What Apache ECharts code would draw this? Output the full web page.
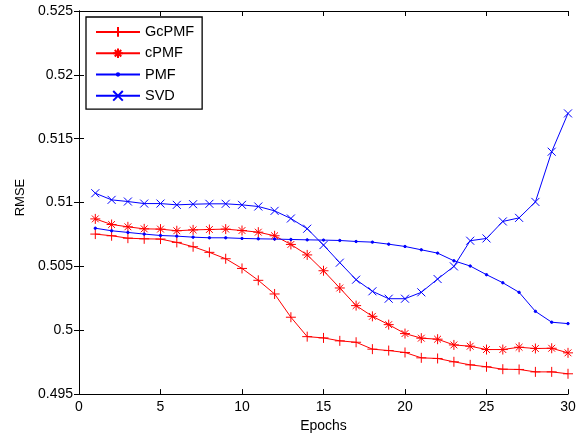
<!DOCTYPE html>
<html><head><meta charset="utf-8">
<script src="https://cdn.jsdelivr.net/npm/echarts@6/dist/echarts.min.js"></script>
<style>html,body{margin:0;padding:0;background:#fff}#c{width:581px;height:438px}</style>
</head><body><div id="c"></div>
<script>
const epochs = [1,2,3,4,5,6,7,8,9,10,11,12,13,14,15,16,17,18,19,20,21,22,23,24,25,26,27,28,29,30];
const gcpmf = [0.50753,0.50740,0.50721,0.50716,0.50714,0.50688,0.50654,0.50610,0.50560,0.50484,0.50391,0.50284,0.50102,0.49950,0.49940,0.49917,0.49906,0.49852,0.49841,0.49826,0.49784,0.49779,0.49753,0.49729,0.49714,0.49695,0.49693,0.49674,0.49674,0.49659];
const cpmf = [0.50872,0.50828,0.50810,0.50794,0.50792,0.50779,0.50786,0.50789,0.50792,0.50781,0.50768,0.50740,0.50672,0.50590,0.50466,0.50331,0.50193,0.50109,0.50044,0.49974,0.49938,0.49930,0.49885,0.49875,0.49849,0.49849,0.49867,0.49857,0.49859,0.49823];
const pmf = [0.50799,0.50779,0.50766,0.50753,0.50742,0.50737,0.50729,0.50724,0.50724,0.50719,0.50716,0.50714,0.50711,0.50708,0.50706,0.50703,0.50695,0.50690,0.50674,0.50656,0.50630,0.50604,0.50544,0.50503,0.50435,0.50372,0.50297,0.50148,0.50063,0.50052];
const svd = [0.51073,0.51021,0.51008,0.50992,0.50992,0.50982,0.50987,0.50990,0.50990,0.50982,0.50969,0.50935,0.50875,0.50795,0.50667,0.50529,0.50396,0.50305,0.50247,0.50247,0.50297,0.50401,0.50500,0.50701,0.50719,0.50852,0.50880,0.51005,0.51398,0.51698];
const seriesNames = ['GcPMF','cPMF','PMF','SVD'];

const FONT = 'Liberation Sans, Arial, Helvetica, sans-serif';
const symPlus = 'path://M0,5L10,5M5,0L5,10';
const symStar = 'path://M0,5L10,5M5,0L5,10M1.6,1.6L8.4,8.4M8.4,1.6L1.6,8.4';
const symX = 'path://M0,0L10,10M10,0L0,10';
const symXLegend = 'path://M0,0M14,14M3,3L11,11M11,3L3,11';
const symDot = 'path://M0,0M10,10M3.8,5A1.2,1.2 0 1 0 6.2,5A1.2,1.2 0 1 0 3.8,5Z';

function mk(name, vals, color, symbol, size) {
  return {
    name: name, type: 'line',
    data: epochs.map((e, i) => [e, vals[i]]),
    symbol: symbol, symbolSize: size, showAllSymbol: true,
    lineStyle: { color: color, width: 1 },
    itemStyle: { color: color, borderColor: color, borderWidth: 1 },
    emphasis: { disabled: true }
  };
}

const chart = echarts.init(document.getElementById('c'), null, { renderer: 'canvas' });
const yFmt = v => String(parseFloat(v.toFixed(3)));
chart.setOption({
  animation: false,
  backgroundColor: '#fff',
  textStyle: { fontFamily: FONT },
  grid: { left: 79, right: 13, top: 11, bottom: 43, containLabel: false },
  legend: {
    orient: 'vertical', left: 86, top: 17,
    data: seriesNames,
    itemWidth: 44, itemHeight: 12, itemGap: 6.3,
    padding: [7.4, 8, 5.8, 9],
    backgroundColor: '#fff', borderColor: '#000', borderWidth: 1.3,
    textStyle: { fontFamily: FONT, fontSize: 14.5, color: '#000' },
    selectedMode: false
  },
  xAxis: [{
    type: 'value', min: 0, max: 30, interval: 5,
    name: 'Epochs', nameLocation: 'middle', nameGap: 24,
    nameTextStyle: { fontFamily: FONT, fontSize: 14, color: '#000' },
    axisLine: { lineStyle: { color: '#000', width: 1 } },
    axisTick: { inside: true, length: 5, lineStyle: { color: '#000' } },
    axisLabel: { fontFamily: FONT, fontSize: 14, color: '#000', margin: 6 },
    splitLine: { show: false }
  }, {
    type: 'value', min: 0, max: 30, interval: 5, position: 'top',
    axisLine: { show: true, lineStyle: { color: '#000', width: 1 } },
    axisTick: { inside: true, length: 5, lineStyle: { color: '#000' } },
    axisLabel: { show: false }, splitLine: { show: false }
  }],
  yAxis: [{
    type: 'value', min: 0.495, max: 0.525, interval: 0.005,
    name: 'RMSE', nameLocation: 'middle', nameGap: 49,
    nameTextStyle: { fontFamily: FONT, fontSize: 13, color: '#000', padding: [0, 0, 0, 10] },
    axisLine: { show: true, lineStyle: { color: '#000', width: 1 } },
    axisTick: { show: true, inside: true, length: 5, lineStyle: { color: '#000' } },
    axisLabel: { fontFamily: FONT, fontSize: 14, color: '#000', margin: 6, formatter: yFmt },
    splitLine: { show: false }
  }, {
    type: 'value', min: 0.495, max: 0.525, interval: 0.005, position: 'right',
    axisLine: { show: true, lineStyle: { color: '#000', width: 1 } },
    axisTick: { show: true, inside: true, length: 5, lineStyle: { color: '#000' } },
    axisLabel: { show: false }, splitLine: { show: false }
  }],
  series: [
    mk('GcPMF', gcpmf, '#ff0000', symPlus, 10),
    mk('cPMF', cpmf, '#ff0000', symStar, 10),
    mk('PMF', pmf, '#0000ff', symDot, 10),
    mk('SVD', svd, '#0000ff', symX, 8)
  ]
});
</script></body></html>
